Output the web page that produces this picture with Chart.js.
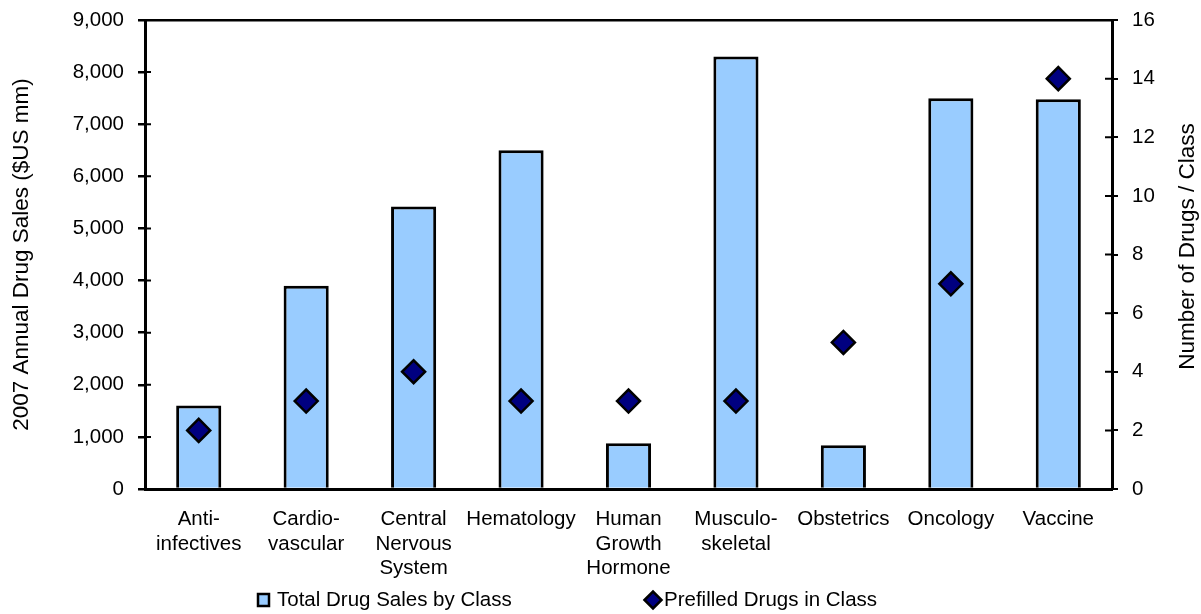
<!DOCTYPE html>
<html lang="en">
<head>
<meta charset="UTF-8" />
<title>2007 Annual Drug Sales by Class</title>
<script src="https://cdn.jsdelivr.net/npm/chart.js"></script>
<style>
  html, body { margin: 0; padding: 0; background: #fff; }
  .wrap { width: 1201px; height: 614px; }
</style>
</head>
<body>
<div class="wrap"><canvas id="chart" width="1201" height="614"></canvas></div>
<script>
// values
const categories = [
  ["Anti-", "infectives"],
  ["Cardio-", "vascular"],
  ["Central", "Nervous", "System"],
  "Hematology",
  ["Human", "Growth", "Hormone"],
  ["Musculo-", "skeletal"],
  "Obstetrics",
  "Oncology",
  "Vaccine"
];
const salesValues = [1600, 3900, 5420, 6500, 880, 8300, 840, 7500, 7480];
const prefilledCounts = [2, 3, 4, 3, 3, 3, 5, 7, 14];
const salesAxis = { min: 0, max: 9000, step: 1000 };
const countAxis = { min: 0, max: 16, step: 2 };
const rightTitle = "Number of Drugs / Class";

const FONT = "'Liberation Sans', Arial, sans-serif";
Chart.defaults.font.family = FONT;
Chart.defaults.color = "#000";

// tick stubs inside the plot, right axis title (reads bottom-up) and the legend row
const extras = {
  id: "extras",
  afterDraw(chart) {
    const ctx = chart.ctx;
    const yl = chart.scales.y, yr = chart.scales.y1;
    const area = chart.chartArea;
    ctx.save();
    ctx.strokeStyle = "#000";
    ctx.lineWidth = 2;
    ctx.beginPath();
    yl.ticks.forEach(t => {
      const py = yl.getPixelForValue(t.value);
      ctx.moveTo(yl.right, py); ctx.lineTo(yl.right + 6, py);
    });
    yr.ticks.forEach(t => {
      const py = yr.getPixelForValue(t.value);
      ctx.moveTo(yr.left - 7, py); ctx.lineTo(yr.left, py);
    });
    ctx.stroke();

    // right axis title
    ctx.save();
    ctx.translate(1188, (area.top + area.bottom) / 2 - 8);
    ctx.rotate(-Math.PI / 2);
    ctx.font = "22.5px " + FONT;
    ctx.textAlign = "center";
    ctx.textBaseline = "middle";
    ctx.fillStyle = "#000";
    ctx.fillText(rightTitle, 0, 0);
    ctx.restore();

    // legend
    const bars = chart.data.datasets[1], pts = chart.data.datasets[0];
    const ly = 600;
    ctx.font = "20.5px " + FONT;
    ctx.textBaseline = "middle";
    ctx.lineWidth = 2.5;
    ctx.fillStyle = bars.backgroundColor;
    ctx.fillRect(258, ly - 6, 11, 12);
    ctx.strokeRect(258, ly - 6, 11, 12);
    ctx.fillStyle = "#000";
    ctx.fillText(bars.label, 277, ly);

    const dx = 653, r = 8.5;
    ctx.lineWidth = 2.5;
    ctx.beginPath();
    ctx.moveTo(dx - r, ly); ctx.lineTo(dx, ly - r);
    ctx.lineTo(dx + r, ly); ctx.lineTo(dx, ly + r);
    ctx.closePath();
    ctx.fillStyle = pts.pointBackgroundColor;
    ctx.fill(); ctx.stroke();
    ctx.fillStyle = "#000";
    ctx.fillText(pts.label, 664, ly);
    ctx.restore();
  }
};

const ctx = document.getElementById("chart").getContext("2d");
new Chart(ctx, {
  data: {
    labels: categories,
    datasets: [
      {
        type: "line",
        label: "Prefilled Drugs in Class",
        data: prefilledCounts,
        yAxisID: "y1",
        showLine: false,
        pointStyle: "rectRot",
        pointRadius: 11.5,
        pointHoverRadius: 11.5,
        pointBackgroundColor: "#000080",
        pointBorderColor: "#000",
        pointBorderWidth: 2.5,
        order: 0
      },
      {
        type: "bar",
        label: "Total Drug Sales by Class",
        data: salesValues,
        yAxisID: "y",
        backgroundColor: "#99CCFF",
        borderColor: "#000",
        borderWidth: 3,
        barPercentage: 0.42,
        categoryPercentage: 1,
        order: 1
      }
    ]
  },
  options: {
    responsive: false,
    animation: false,
    layout: { padding: { top: 20, left: 0, right: 0, bottom: 0 } },
    plugins: { legend: { display: false }, tooltip: { enabled: false } },
    scales: {
      x: {
        offset: true,
        grid: { display: false },
        border: { color: "#000", width: 3 },
        ticks: { font: { size: 20.5 }, padding: 10, maxRotation: 0, autoSkip: false },
        afterFit(s) { s.height = 125; }
      },
      y: {
        position: "left",
        min: salesAxis.min,
        max: salesAxis.max,
        ticks: {
          stepSize: salesAxis.step,
          font: { size: 20.5 },
          padding: 14,
          callback: v => v.toLocaleString("en-US")
        },
        grid: {
          color: c => (c.tick && c.tick.value === salesAxis.max) ? "#000" : "rgba(0,0,0,0)",
          tickColor: "#000",
          lineWidth: 2.5,
          tickLength: 7
        },
        border: { color: "#000", width: 3 },
        title: {
          display: true,
          text: "2007 Annual Drug Sales ($US mm)",
          font: { size: 22.5 },
          padding: { top: 8, bottom: 0 }
        },
        afterFit(s) { s.width = 145; s.paddingTop = 0; s.paddingBottom = 0; }
      },
      y1: {
        position: "right",
        min: countAxis.min,
        max: countAxis.max,
        ticks: { stepSize: countAxis.step, font: { size: 20.5 }, padding: 14 },
        grid: { drawOnChartArea: false, tickColor: "#000", lineWidth: 2, tickLength: 6 },
        border: { color: "#000", width: 3 },
        title: { display: false },
        afterFit(s) { s.width = 89; s.paddingTop = 0; s.paddingBottom = 0; }
      }
    }
  },
  plugins: [extras]
});
</script>
</body>
</html>
